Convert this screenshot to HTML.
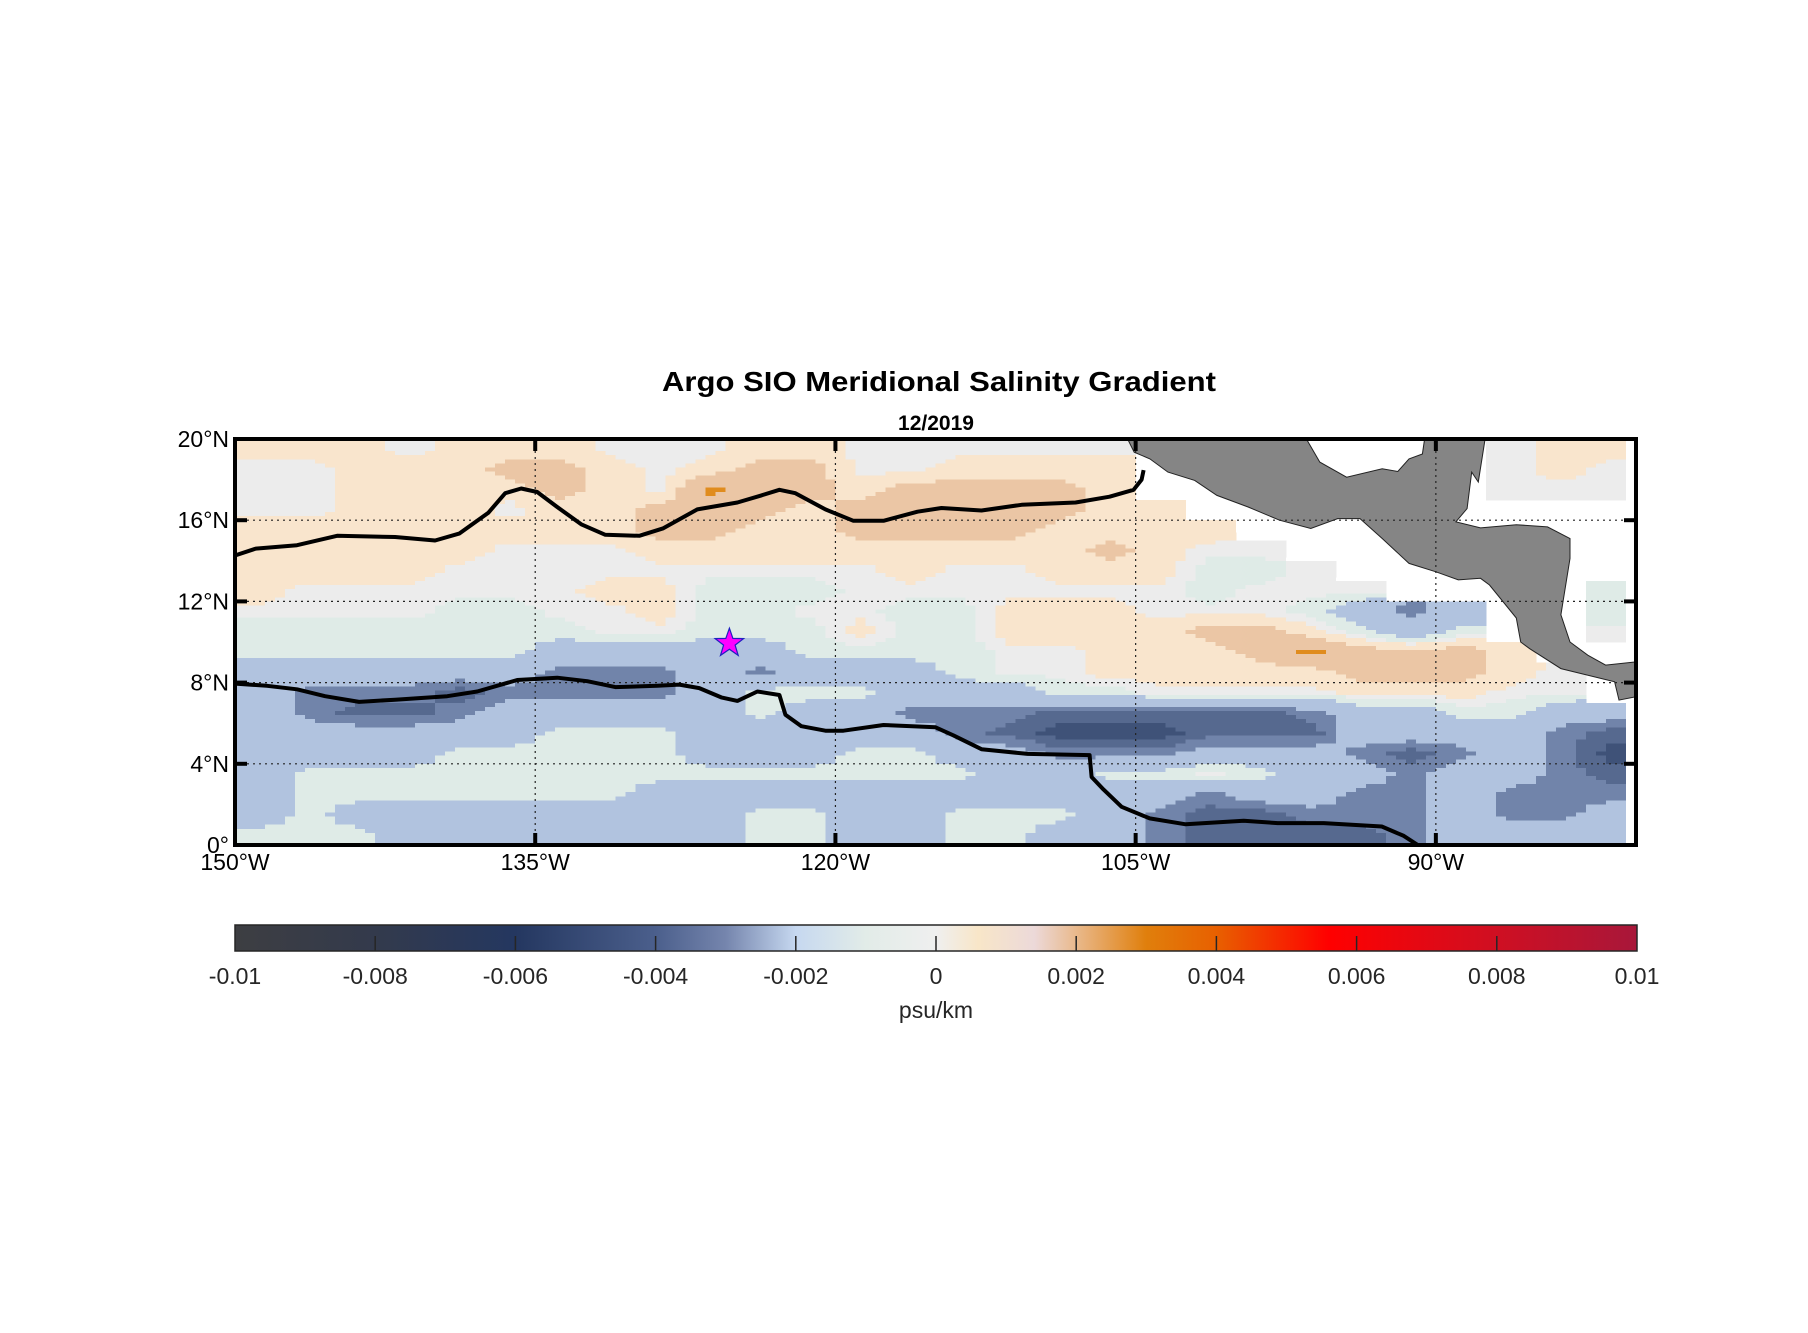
<!DOCTYPE html>
<html><head><meta charset="utf-8"><title>Argo SIO Meridional Salinity Gradient</title>
<style>html,body{margin:0;padding:0;background:#fff;}svg{display:block;font-family:"Liberation Sans",Arial,sans-serif;}</style>
</head><body>
<svg id="chart" width="1808" height="1333" viewBox="0 0 1808 1333">
<defs>
<linearGradient id="cbgrad" x1="0" x2="1" y1="0" y2="0">
<stop offset="0" stop-color="#3d3e42"/><stop offset="0.1" stop-color="#333a4c"/><stop offset="0.2" stop-color="#243760"/>
<stop offset="0.3" stop-color="#4b5f8c"/><stop offset="0.35" stop-color="#7585ad"/><stop offset="0.4" stop-color="#c6d8f0"/>
<stop offset="0.45" stop-color="#e2ece8"/><stop offset="0.5" stop-color="#efefef"/><stop offset="0.53" stop-color="#f8e6c8"/>
<stop offset="0.57" stop-color="#ecd9d9"/><stop offset="0.6" stop-color="#e9b98c"/><stop offset="0.65" stop-color="#e07f0c"/>
<stop offset="0.7" stop-color="#e86000"/><stop offset="0.78" stop-color="#ff0000"/><stop offset="0.9" stop-color="#cf0f22"/>
<stop offset="1" stop-color="#a8173a"/></linearGradient>
<clipPath id="plotclip"><rect x="235" y="439" width="1401" height="406"/></clipPath>
<clipPath id="fieldclip"><rect x="235" y="439" width="1391" height="406"/></clipPath>
</defs>
<text x="939" y="391" text-anchor="middle" font-weight="bold" font-size="28" textLength="554" lengthAdjust="spacingAndGlyphs">Argo SIO Meridional Salinity Gradient</text>
<text x="936" y="430" text-anchor="middle" font-weight="bold" font-size="21">12/2019</text>
<g id="field" clip-path="url(#fieldclip)" shape-rendering="crispEdges"></g>
<g id="land" clip-path="url(#plotclip)"></g>
<g id="grid"></g>
<g id="lines" clip-path="url(#plotclip)"></g>
<g id="axes"></g>
<g id="colorbar"></g>
</svg>
<script>
// ---- data ----
const lonMin = -150, lonMax = -80, latMin = 0, latMax = 20;
const cellLon = 2.5, cellLat = 1;
// rows from lat 19.5 down to 0.5; units 1e-3 psu/km; null = no data
const P=0.5,T=1.5,O=2.6,G=0,E=-0.5,L=-2,M=-3.5,D=-4.5,X=-5.5,N=null;
const fieldRows = [
[P,P,P,G,P,P,P,G,G,G,P,P,G,G, G,G,G,G,N,N,N,N,N,N,N,G,P,P],
[G,G,P,P,P,T,T,P,G,P,T,T,G,G, P,P,P,P,N,N,N,N,N,N,N,G,P,G],
[G,G,P,P,P,P,T,P,G,O,T,T,P,T, T,T,T,P,N,N,N,N,N,N,N,G,G,G],
[G,G,P,P,P,G,P,P,T,T,T,P,T,T, T,T,T,P,P,N,N,N,N,N,N,N,N,N],
[P,P,P,P,P,P,P,P,T,T,P,P,T,T, T,T,P,P,P,P,N,N,N,N,N,N,N,N],
[P,P,P,P,P,G,G,G,P,P,P,P,P,P, P,P,P,T,P,G,G,N,N,N,N,N,N,N],
[P,P,P,P,G,G,G,G,G,G,G,G,G,P, G,G,P,P,P,E,E,G,N,N,N,N,N,N],
[P,G,G,G,G,G,G,P,P,E,E,E,G,G, G,G,G,G,G,E,G,G,G,N,N,N,N,E],
[G,G,G,G,E,E,G,G,P,E,E,G,G,E, E,P,P,P,G,G,G,E,L,M,L,N,N,E],
[E,E,E,E,E,E,E,G,G,E,E,E,P,E, E,P,P,P,P,T,T,P,E,L,E,N,N,G],
[E,E,E,E,E,E,L,L,L,L,L,E,E,E, E,G,G,P,P,P,T,O,T,T,T,P,N,N],
[L,L,L,L,L,L,M,M,M,L,M,L,L,L, E,G,G,P,P,P,P,P,T,T,T,P,G,N],
[L,M,M,M,D,M,M,M,M,L,E,E,E,L, L,L,E,E,G,G,G,G,P,P,P,G,G,N],
[L,M,D,D,M,L,L,L,L,L,E,L,L,M, M,M,D,D,D,D,D,M,L,L,E,E,L,L],
[L,L,L,L,L,L,E,E,E,L,L,L,L,L, M,D,X,X,X,D,D,D,L,L,L,L,M,D],
[L,L,L,L,E,E,E,E,E,L,L,L,E,E, L,L,M,M,M,L,L,L,M,D,M,L,M,X],
[L,E,E,E,E,E,E,E,E,E,E,E,E,E, E,L,L,E,E,G,E,L,L,M,L,L,M,D],
[L,E,E,E,E,E,E,E,L,L,L,L,L,L, L,L,L,L,L,M,L,L,M,M,L,M,M,M],
[L,E,L,L,L,L,L,L,L,L,E,E,L,L, E,E,E,L,M,D,D,M,M,M,L,M,M,L],
[E,E,E,L,L,L,L,L,L,L,E,E,L,L, E,E,L,L,M,D,D,D,D,M,L,L,L,L]
];
const upperLineLon = [-150,-148.96,-146.9,-144.9,-142,-140,-138.8,-137.35,-136.5,-135.7,-134.9,-133.9,-132.7,-131.5,-129.8,-128.6,-126.9,-124.9,-123.7,-122.8,-122,-120.5,-119.1,-117.6,-115.9,-114.7,-112.7,-110.7,-108,-106.3,-105.1,-104.7,-104.6];
const upperLineLat = [14.26,14.6,14.77,15.23,15.17,15.0,15.34,16.36,17.33,17.56,17.39,16.65,15.8,15.28,15.23,15.6,16.53,16.87,17.22,17.5,17.33,16.53,15.97,15.97,16.42,16.6,16.48,16.76,16.87,17.16,17.5,18.0,18.47];
const lowerLineLon = [-150,-148.4,-146.9,-145.5,-143.8,-142,-139.4,-137.9,-135.9,-133.9,-132.4,-131,-128.9,-127.8,-126.8,-125.7,-124.9,-123.9,-122.8,-122.5,-121.7,-120.5,-119.6,-117.6,-115,-114.1,-112.7,-110.4,-107.3,-107.2,-106.6,-105.7,-104.3,-102.5,-99.6,-97.9,-95.6,-92.7,-91.6,-90.9];
const lowerLineLat = [7.95,7.84,7.67,7.33,7.05,7.16,7.33,7.56,8.13,8.24,8.07,7.78,7.84,7.9,7.73,7.27,7.1,7.56,7.39,6.42,5.85,5.63,5.63,5.91,5.8,5.4,4.72,4.49,4.43,3.35,2.73,1.88,1.31,1.02,1.19,1.08,1.08,0.91,0.45,0];
const landLon = [-105.4,-96.47,-95.8,-94.46,-92.68,-91.9,-91.34,-90.67,-90.56,-87.54,-87.88,-88.21,-88.44,-89.0,-87.77,-85.98,-84.42,-83.3,-83.3,-83.75,-83.3,-82.41,-81.52,-80.0,-80.0,-80.85,-81.07,-83.75,-85.31,-85.76,-85.98,-87.32,-87.77,-88.88,-90.0,-91.34,-92.68,-93.79,-94.91,-96.25,-97.81,-99.38,-100.94,-102.05,-103.39,-104.29,-105.07];
const landLat = [20,20,18.86,18.12,18.53,18.4,19.02,19.26,20,20,17.88,18.37,16.57,15.92,15.62,15.78,15.67,15.1,14.12,11.34,10,9.35,8.86,9.02,7.3,7.14,8.04,8.69,9.67,10,11.18,12.81,13.14,13.06,13.46,13.87,15.1,16.08,16.08,15.59,16.0,16.65,17.22,17.96,18.37,19.02,19.35];
const starLon = -125.3, starLat = 9.94;
const lonTicks = [-150,-135,-120,-105,-90];
const lonTickLabels = ["150°W","135°W","120°W","105°W","90°W"];
const latTicks = [0,4,8,12,16,20];
const latTickLabels = ["0°","4°N","8°N","12°N","16°N","20°N"];
const cbTicks = [-0.01,-0.008,-0.006,-0.004,-0.002,0,0.002,0.004,0.006,0.008,0.01];
const cbTickLabels = ["-0.01","-0.008","-0.006","-0.004","-0.002","0","0.002","0.004","0.006","0.008","0.01"];

// ---- scales ----
const X0=235, X1=1636, Y0=439, Y1=845;
function xs(lon){return X0+(lon-lonMin)/(lonMax-lonMin)*(X1-X0);}
function ys(lat){return Y1-(lat-latMin)/(latMax-latMin)*(Y1-Y0);}
const CB0=235, CB1=1637, CBY=925, CBH=26;
function cbx(v){return CB0+(v+0.01)/0.02*(CB1-CB0);}
function colorFor(v){
  if(v===null) return null;
  if(v<=-5) return '#3f5278';
  if(v<=-4) return '#56698f';
  if(v<=-3) return '#7184aa';
  if(v<=-1) return '#b1c3df';
  if(v<-0.2) return '#dfebe7';
  if(v<0.2) return '#ececec';
  if(v<1) return '#f9e5cd';
  if(v<2.3) return '#ebc6a5';
  return '#e08c1e';
}
const NS='http://www.w3.org/2000/svg';
function mk(tag,attrs,parent){const e=document.createElementNS(NS,tag);for(const k in attrs)e.setAttribute(k,attrs[k]);parent.appendChild(e);return e;}
const nRows=fieldRows.length, nCols=fieldRows[0].length;
function cellVal(r,c){r=Math.max(0,Math.min(nRows-1,r));c=Math.max(0,Math.min(nCols-1,c));return fieldRows[r][c];}
function sample(lon,lat){
  const fc=(lon-lonMin)/cellLon-0.5, fr=(latMax-lat)/cellLat-0.5;
  const nr=Math.round(fr), nc=Math.round(fc);
  if(cellVal(nr,nc)===null) return null;
  const c0=Math.floor(fc), r0=Math.floor(fr), tx=fc-c0, ty=fr-r0;
  let s=0,w=0;
  [[r0,c0,(1-tx)*(1-ty)],[r0,c0+1,tx*(1-ty)],[r0+1,c0,(1-tx)*ty],[r0+1,c0+1,tx*ty]].forEach(q=>{const v=cellVal(q[0],q[1]);if(v!==null){s+=v*q[2];w+=q[2];}});
  return w>0?s/w:null;
}

// field: rendered from the grid with bilinear shading into discrete levels
const field=document.getElementById('field');
const sub=5;
const dLon=cellLon/sub, dLat=cellLat/sub;
for(let j=0;j<nRows*sub;j++){
  const latTop=latMax-j*dLat;
  let runStart=null, runColor=null;
  const total=nCols*sub;
  for(let i=0;i<=total;i++){
    let c=null;
    if(i<total){const lon=lonMin+(i+0.5)*dLon;c=colorFor(sample(lon,latTop-dLat/2));}
    if(c!==runColor){
      if(runColor){
        const x=xs(lonMin+runStart*dLon), x2=xs(lonMin+i*dLon), y=ys(latTop), y2=ys(latTop-dLat);
        const r=mk('rect',{x:x.toFixed(1),y:y.toFixed(1),width:(x2-x+0.5).toFixed(1),height:(y2-y+0.5).toFixed(1),fill:runColor},field);
        
        
      }
      runStart=i;runColor=c;
    }
  }
}
// land
const land=document.getElementById('land');
const lp=mk('polygon',{points:landLon.map((lo,i)=>xs(lo).toFixed(1)+','+ys(landLat[i]).toFixed(1)).join(' '),fill:'#858585',stroke:'#222',"stroke-width":1},land);



// grid
const grid=document.getElementById('grid');
lonTicks.slice(1).forEach(lo=>{mk('line',{x1:xs(lo),x2:xs(lo),y1:Y0,y2:Y1,stroke:'#222',"stroke-width":1.2,"stroke-dasharray":"2 4"},grid);});
latTicks.slice(1,-1).forEach(la=>{mk('line',{x1:X0,x2:X1,y1:ys(la),y2:ys(la),stroke:'#222',"stroke-width":1.2,"stroke-dasharray":"2 4"},grid);});

// contour lines
const lines=document.getElementById('lines');
const u=mk('polyline',{points:upperLineLon.map((lo,i)=>xs(lo).toFixed(1)+','+ys(upperLineLat[i]).toFixed(1)).join(' '),fill:'none',stroke:'#000',"stroke-width":4,"stroke-linejoin":"round"},lines);


const lw=mk('polyline',{points:lowerLineLon.map((lo,i)=>xs(lo).toFixed(1)+','+ys(lowerLineLat[i]).toFixed(1)).join(' '),fill:'none',stroke:'#000',"stroke-width":4,"stroke-linejoin":"round"},lines);


// star
(function(){const cx=xs(starLon),cy=ys(starLat),R=15,r=6;let pts=[];for(let i=0;i<10;i++){const a=-Math.PI/2+i*Math.PI/5;const rr=i%2?r:R;pts.push((cx+rr*Math.cos(a)).toFixed(1)+','+(cy+rr*Math.sin(a)).toFixed(1));}
const s=mk('polygon',{points:pts.join(' '),fill:'#ff00ff',stroke:'#2020c0',"stroke-width":1.2},lines);

})();

// axes
const axes=document.getElementById('axes');
mk('rect',{x:X0,y:Y0,width:X1-X0,height:Y1-Y0,fill:'none',stroke:'#000',"stroke-width":4},axes);
lonTicks.forEach((lo,i)=>{
  if(i>0){mk('line',{x1:xs(lo),x2:xs(lo),y1:Y0,y2:Y0+12,stroke:'#000',"stroke-width":4},axes);mk('line',{x1:xs(lo),x2:xs(lo),y1:Y1,y2:Y1-12,stroke:'#000',"stroke-width":4},axes);}
  const t=mk('text',{x:xs(lo),y:870,"text-anchor":"middle","font-size":23,fill:'#000'},axes);t.textContent=lonTickLabels[i];
  
  
});
latTicks.forEach((la,i)=>{
  if(i>0&&i<latTicks.length-1){mk('line',{x1:X0,x2:X0+12,y1:ys(la),y2:ys(la),stroke:'#000',"stroke-width":4},axes);mk('line',{x1:X1,x2:X1-12,y1:ys(la),y2:ys(la),stroke:'#000',"stroke-width":4},axes);}
  const t=mk('text',{x:229,y:ys(la)+8,"text-anchor":"end","font-size":23,fill:'#000'},axes);t.textContent=latTickLabels[i];
  
  
});

// colorbar
const cb=document.getElementById('colorbar');
mk('rect',{x:CB0,y:CBY,width:CB1-CB0,height:CBH,fill:'url(#cbgrad)',stroke:'#262626',"stroke-width":1.5},cb);
cbTicks.forEach((v,i)=>{
  if(i>0&&i<cbTicks.length-1) mk('line',{x1:cbx(v),x2:cbx(v),y1:CBY+11,y2:CBY+CBH,stroke:'#262626',"stroke-width":1.5},cb);
  const t=mk('text',{x:cbx(v),y:984,"text-anchor":"middle","font-size":23,fill:'#262626'},cb);t.textContent=cbTickLabels[i];
  
  
});
const ut=mk('text',{x:936,y:1018,"text-anchor":"middle","font-size":23,fill:'#262626'},cb);ut.textContent='psu/km';


</script>
</body></html>
